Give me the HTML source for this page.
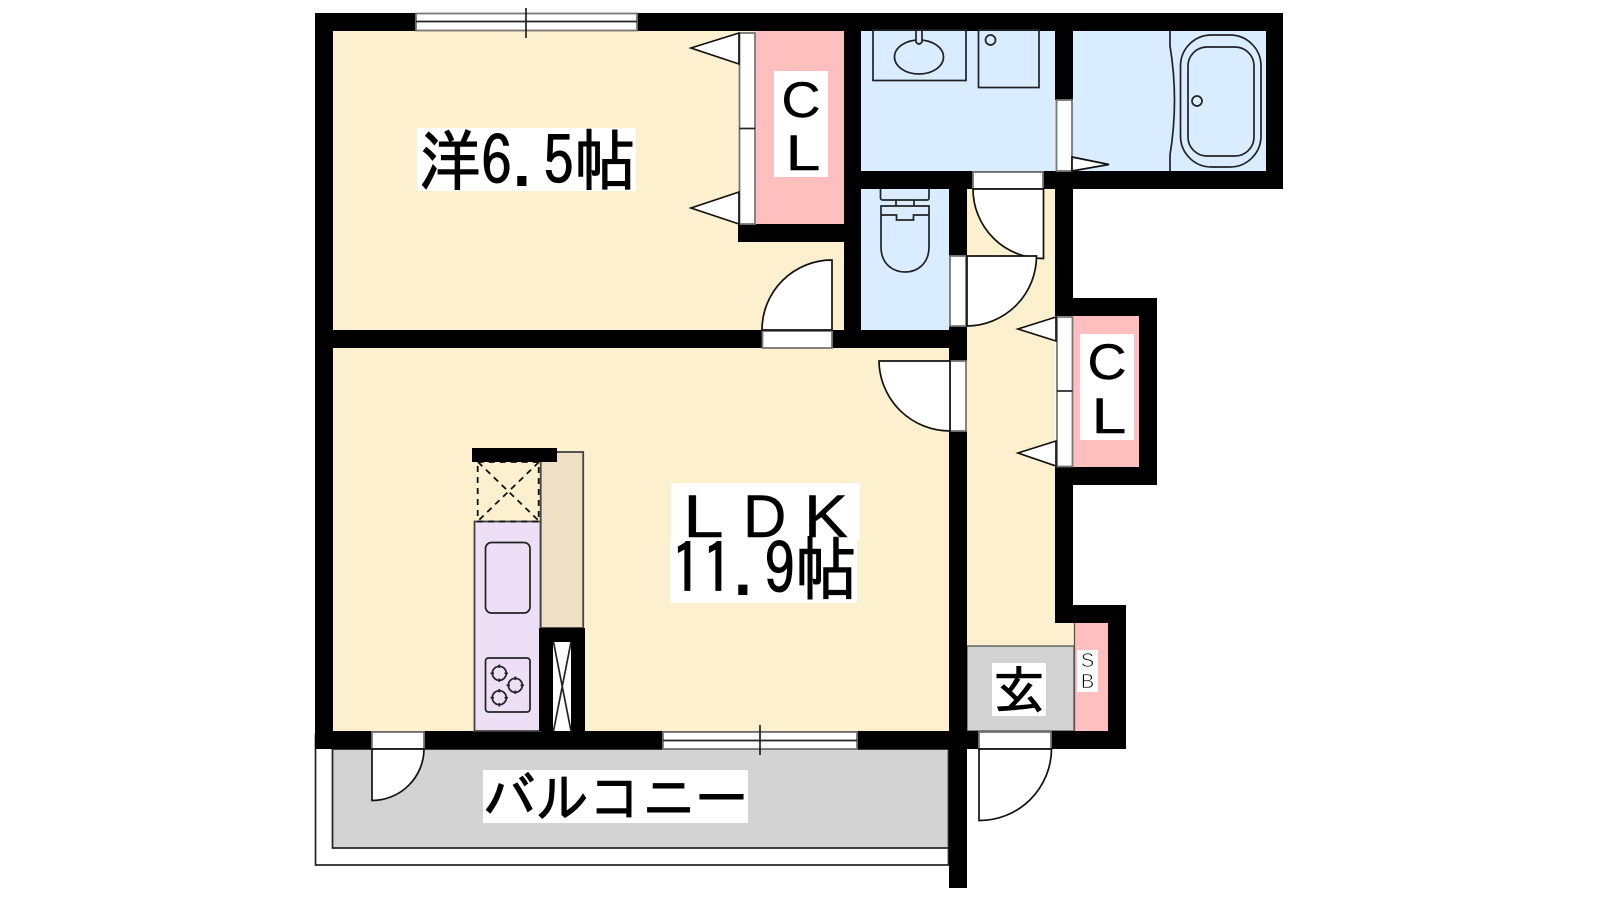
<!DOCTYPE html>
<html><head><meta charset="utf-8"><title>Floor plan</title>
<style>html,body{margin:0;padding:0;background:#fff}svg{display:block}
.j{font-family:"IPAGothic","Noto Sans CJK JP",monospace;fill:#000;stroke:#000;stroke-width:.9}
.l{font-family:"Liberation Sans",sans-serif;fill:#000;stroke:#000;stroke-width:.4}
.o{fill:#fff;stroke:#111;stroke-width:1.7}
.t{fill:none;stroke:#222;stroke-width:1.7}
.g{fill:#fff;stroke:#777;stroke-width:1.8}</style></head><body>
<svg width="1600" height="900" viewBox="0 0 1600 900" xmlns="http://www.w3.org/2000/svg">
<rect width="1600" height="900" fill="#fff"/>
<!-- floors -->
<rect x="333" y="31" width="511" height="299" fill="#fdf0cf"/>
<rect x="333" y="348" width="616" height="383" fill="#fdf0cf"/>
<rect x="967" y="189" width="88" height="457" fill="#fdf0cf"/>
<rect x="1055" y="623" width="20" height="23" fill="#fdf0cf"/>
<rect x="756" y="31" width="88" height="193" fill="#ffbfbf"/>
<rect x="1073" y="316" width="66" height="151" fill="#ffbfbf"/>
<rect x="1075" y="623" width="33" height="108" fill="#ffbfbf"/>
<rect x="861" y="31" width="405" height="140" fill="#daecff"/>
<rect x="861" y="189" width="88" height="141" fill="#daecff"/>
<rect x="967" y="646" width="107" height="85" fill="#d3d3d3" stroke="#555" stroke-width="1.3"/>
<!-- balcony -->
<rect x="315.5" y="735" width="633" height="130" fill="#fff" stroke="#222" stroke-width="1.7"/>
<rect x="332.5" y="749" width="616" height="99" fill="#d3d3d3" stroke="#222" stroke-width="1.7"/>
<!-- walls -->
<g fill="#000">
<rect x="315" y="13" width="968" height="18"/>
<rect x="315" y="13" width="18" height="736"/>
<rect x="315" y="330" width="652" height="18"/>
<rect x="315" y="731" width="811" height="18"/>
<rect x="844" y="13" width="17" height="335"/>
<rect x="738" y="224" width="106" height="18"/>
<rect x="844" y="171" width="439" height="18"/>
<rect x="1266" y="13" width="17" height="176"/>
<rect x="1055" y="13" width="18" height="87"/>
<rect x="949" y="171" width="18" height="85"/>
<rect x="949" y="326" width="18" height="35"/>
<rect x="949" y="431" width="18" height="457"/>
<rect x="1055" y="171" width="18" height="145"/>
<rect x="1055" y="298" width="102" height="18"/>
<rect x="1139" y="298" width="18" height="187"/>
<rect x="1055" y="467" width="102" height="18"/>
<rect x="1055" y="467" width="18" height="156"/>
<rect x="1055" y="605" width="71" height="18"/>
<rect x="1108" y="605" width="18" height="144"/>
</g>
<!-- windows -->
<g>
<rect x="416" y="13.5" width="221" height="17" class="g"/>
<path d="M416 21.5H637" class="t"/><path d="M526 8V38" class="t"/>
<rect x="663" y="732" width="194" height="17" class="g"/>
<path d="M663 740.5H857" class="t"/><path d="M760 725V755" class="t"/>
</g>
<!-- door openings -->
<rect x="762.5" y="331" width="69.5" height="17" class="g"/>
<rect x="973" y="172" width="70" height="17" class="g"/>
<rect x="950" y="256" width="16" height="70" class="g"/>
<rect x="950" y="361" width="16" height="70" class="g"/>
<rect x="1056.500" y="100" width="15.500" height="71" class="g"/>
<rect x="372" y="732" width="52" height="17" class="g"/>
<rect x="979" y="732" width="72" height="17" class="g"/>
<!-- door leaves -->
<path d="M832 330V260A70 70 0 0 0 762 330Z" class="o"/>
<path d="M1043.500 189V258.500A70 70 0 0 1 973 189Z" class="o"/>
<path d="M967 256H1036.500A70 70 0 0 1 967 326Z" class="o"/>
<path d="M950 361H879A71 71 0 0 0 950 431Z" class="o"/>
<path d="M372 749V800.500A52 52 0 0 0 424 749Z" class="o"/>
<path d="M979 749V820.500A72 72 0 0 0 1051.500 749Z" class="o"/>
<!-- closet doors -->
<rect x="739.500" y="33" width="15.500" height="191" class="g"/>
<path d="M739.500 128.500H755" class="t"/>
<path d="M739 33L691 48L739 64Z" class="o"/><path d="M739 192L691 208L739 224Z" class="o"/>
<rect x="1057" y="317" width="15.500" height="149.500" class="g"/>
<path d="M1057 391H1072.500" class="t"/>
<path d="M1056 317L1018 329L1056 341Z" class="o"/><path d="M1056 441L1018 453L1056 466Z" class="o"/>
<path d="M1072 157L1109 164.500L1072 171Z" class="o"/>
<path d="M1074.500 623V731" stroke="#555" stroke-width="1.3" fill="none"/>
<path d="M1055 623L1073 605V623Z" fill="#000"/>
<!-- washroom -->
<g class="t">
<rect x="873" y="30" width="93" height="50.500"/>
<ellipse cx="919" cy="57" rx="24.500" ry="17"/>
<path d="M916 31V42Q919 46 922 42V31" fill="#daecff"/>
<rect x="978.500" y="30" width="60.500" height="57.500"/>
<circle cx="990.500" cy="40" r="5"/>
<path d="M1170 31V46Q1179 100 1170 155V171"/>
<rect x="1180.500" y="35" width="80.500" height="132" rx="31" ry="31"/>
<rect x="1188" y="47" width="66" height="109" rx="19" ry="19"/>
<circle cx="1197" cy="101" r="5"/>
<!-- toilet -->
<path d="M880.500 189V198Q880.500 200 883 200H927Q929 200 929 198V189"/>
<path d="M896 200V206M914 200V206"/>
<path d="M881 206H929V247C929 264 917 272 905 272C893 272 881 264 881 247Z"/>
<path d="M881 215H896.500V220H913.500V215H929"/>
</g>
<!-- kitchen -->
<rect x="540.700" y="452" width="42.500" height="176" fill="#efdfc4" stroke="#444" stroke-width="1.800"/>
<rect x="474.500" y="521.500" width="66" height="209.500" fill="#eddff5" stroke="#444" stroke-width="1.800"/>
<g fill="none" stroke="#111" stroke-width="1.800" stroke-dasharray="6 5">
<rect x="477.700" y="462" width="61" height="59.500"/>
<path d="M478 462L539 521M539 462L478 521"/>
</g>
<rect x="472" y="448" width="85" height="14" fill="#000"/>
<g class="t">
<rect x="485.500" y="542.500" width="44.500" height="70.500" rx="6"/>
<rect x="485.500" y="658" width="44.500" height="54" rx="3"/>
<circle cx="499.300" cy="673.300" r="7"/><circle cx="515.300" cy="685.300" r="7"/><circle cx="499.300" cy="697.700" r="7"/>
<path d="M499.300 664.500V668M499.300 678.500V682M490.500 673.300H494M504.500 673.300H508M515.300 676.500V680M515.300 690.500V694M506.500 685.300H510M520.500 685.300H524M499.300 689V692.500M499.300 703V706.500M490.500 697.700H494M504.500 697.700H508"/>
</g>
<rect x="539" y="628" width="46" height="103" fill="#000"/>
<rect x="553" y="642" width="18" height="89" fill="#fff"/>
<path d="M553.500 642L571 731M571 642L553.500 731" class="t"/>
<!-- labels -->
<rect x="417" y="128" width="219" height="63" fill="#fff"/>
<text class="j" transform="translate(419 185) scale(1 1.08)" font-size="62">洋6.5帖</text>
<rect x="774" y="71" width="54" height="106" fill="#fff"/>
<text class="l" transform="translate(801 117) scale(1.08 1)" font-size="50" text-anchor="middle">C</text>
<text class="l" transform="translate(803 170) scale(1.25 1)" font-size="50" text-anchor="middle">L</text>
<rect x="1080" y="334" width="54" height="106" fill="#fff"/>
<text class="l" transform="translate(1107 379) scale(1.08 1)" font-size="50" text-anchor="middle">C</text>
<text class="l" transform="translate(1109 433) scale(1.25 1)" font-size="50" text-anchor="middle">L</text>
<rect x="671" y="483" width="189" height="57" fill="#fff"/>
<rect x="670" y="540" width="187" height="63" fill="#fff"/>
<text class="l" transform="translate(683 537) scale(1.22 1)" font-size="60">L</text>
<text class="l" transform="translate(743 537)" font-size="60">D</text>
<text class="l" transform="translate(804 537) scale(1.1 1)" font-size="60">K</text>
<text class="j" transform="translate(671 594) scale(1 1.12)" font-size="62">11.9帖</text>
<rect x="992" y="663" width="54" height="53" fill="#fff"/>
<text class="j" x="993" y="709" font-size="52">玄</text>
<rect x="1077" y="650" width="21" height="42" fill="#fff"/>
<text x="1087.500" y="667" font-family="Liberation Sans, sans-serif" font-size="20" fill="#000" stroke="#fff" stroke-width=".7" text-anchor="middle">S</text>
<text x="1087.500" y="688" font-family="Liberation Sans, sans-serif" font-size="20" fill="#000" stroke="#fff" stroke-width=".7" text-anchor="middle">B</text>
<rect x="483" y="770" width="265" height="53" fill="#fff"/>
<text class="j" transform="translate(483 818) scale(1 1.06)" font-size="53">バルコニー</text>
</svg>
</body></html>
